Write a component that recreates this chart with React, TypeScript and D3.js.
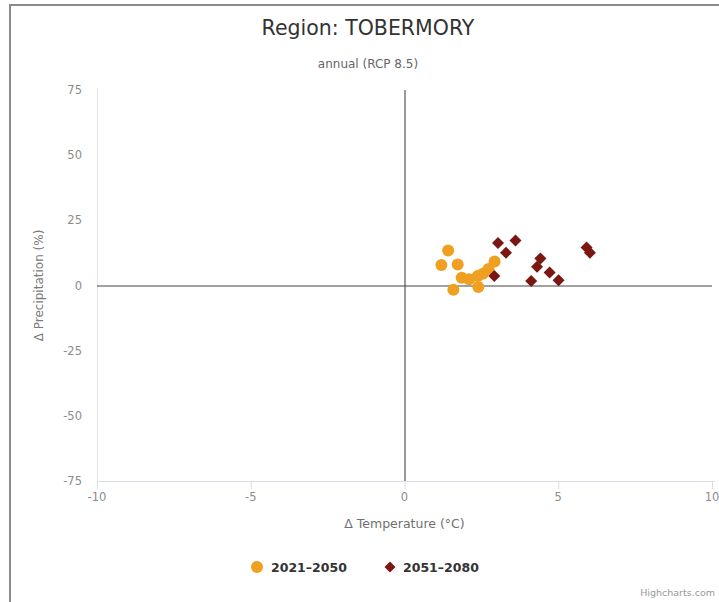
import React from "react";
import * as d3 from "d3";

// Projected change in annual temperature (°C) and precipitation (%) per model run
const series2021Temp = [1.42, 1.2, 1.73, 1.59, 1.86, 2.1, 2.38, 2.4, 2.55, 2.73, 2.93];
const series2021Precip = [13.4, 7.9, 8.1, -1.6, 3.0, 2.4, 3.6, -0.6, 4.5, 6.3, 9.2];

const series2051Temp = [3.04, 3.61, 3.3, 2.92, 4.42, 4.31, 4.72, 4.12, 5.01, 5.92, 6.03];
const series2051Precip = [16.3, 17.3, 12.6, 3.6, 10.4, 7.2, 5.0, 1.7, 2.0, 14.6, 12.6];

const xTicks = [-10, -5, 0, 5, 10];
const yTicks = [-75, -50, -25, 0, 25, 50, 75];

const seriesNames = ["2021–2050", "2051–2080"];
const seriesColors = ["#f0a020", "#7b1712"];

const W = 719;
const H = 602;
const plot = { left: 97, right: 712, top: 90, bottom: 481 };

const font = "'DejaVu Sans', 'Open Sans', sans-serif";

export default function App() {
  const x = d3.scaleLinear().domain([-10, 10]).range([plot.left, plot.right]);
  const y = d3.scaleLinear().domain([-75, 75]).range([plot.bottom, plot.top]);

  const pts2021 = series2021Temp.map((t, i) => ({ t, p: series2021Precip[i] }));
  const pts2051 = series2051Temp.map((t, i) => ({ t, p: series2051Precip[i] }));

  const diamond = (cx: number, cy: number, r: number) =>
    `M${cx},${cy - r}L${cx + r},${cy}L${cx},${cy + r}L${cx - r},${cy}Z`;

  return (
    <svg
      width={W}
      height={H}
      style={{ position: "absolute", left: 0, top: 0, background: "#fff" }}
      fontFamily={font}
    >
      {/* container frame */}
      <rect x={10} y={5} width={W + 20} height={H + 20} fill="#fff" stroke="#8a8a8a" strokeWidth={2} />

      <text x={368} y={35} textAnchor="middle" fontSize={20.5} fill="#333">
        Region: TOBERMORY
      </text>
      <text x={368} y={68} textAnchor="middle" fontSize={12} fill="#666">
        annual (RCP 8.5)
      </text>

      {/* axis lines */}
      <line x1={plot.left + 0.5} x2={plot.left + 0.5} y1={plot.top - 2} y2={plot.bottom} stroke="#e4e4e4" />
      <line x1={plot.left} x2={plot.right + 3} y1={plot.bottom + 0.5} y2={plot.bottom + 0.5} stroke="#dadde5" />
      {xTicks.map((t) => (
        <line key={"xt" + t} x1={x(t) + 0.5} x2={x(t) + 0.5} y1={plot.bottom} y2={plot.bottom + 8} stroke="#dadde5" />
      ))}

      {/* y tick labels */}
      {yTicks.map((t) => (
        <text key={"yl" + t} x={82} y={y(t) + 4} textAnchor="end" fontSize={11.5} fill="#8c8c8c">
          {t}
        </text>
      ))}
      {/* x tick labels */}
      {xTicks.map((t) => (
        <text key={"xl" + t} x={x(t)} y={plot.bottom + 20} textAnchor="middle" fontSize={11.5} fill="#8c8c8c">
          {t}
        </text>
      ))}

      {/* zero reference lines */}
      <line x1={x(0) + 0.5} x2={x(0) + 0.5} y1={plot.top} y2={plot.bottom} stroke="#333" />
      <line x1={plot.left} x2={plot.right} y1={y(0) + 0.5} y2={y(0) + 0.5} stroke="#444" />

      <text x={x(0)} y={528} textAnchor="middle" fontSize={12.5} fill="#707070">
        Δ Temperature (°C)
      </text>
      <text
        transform={`translate(43,${y(0)}) rotate(-90)`}
        textAnchor="middle"
        fontSize={12}
        fill="#7a7a7a"
      >
        Δ Precipitation (%)
      </text>

      {/* markers */}
      {pts2021.map((d, i) => (
        <circle key={"a" + i} cx={x(d.t)} cy={y(d.p)} r={6} fill={seriesColors[0]} />
      ))}
      {pts2051.map((d, i) => (
        <path key={"b" + i} d={diamond(x(d.t), y(d.p), 6)} fill={seriesColors[1]} />
      ))}

      {/* legend */}
      <circle cx={257} cy={567} r={6} fill={seriesColors[0]} />
      <text x={271} y={571.5} fontSize={12.5} fontWeight="bold" fill="#333">
        {seriesNames[0]}
      </text>
      <path d={diamond(390, 567, 5.5)} fill={seriesColors[1]} />
      <text x={403} y={571.5} fontSize={12.5} fontWeight="bold" fill="#333">
        {seriesNames[1]}
      </text>

      <text x={715} y={596} textAnchor="end" fontSize={9.5} fill="#999">
        Highcharts.com
      </text>
    </svg>
  );
}
